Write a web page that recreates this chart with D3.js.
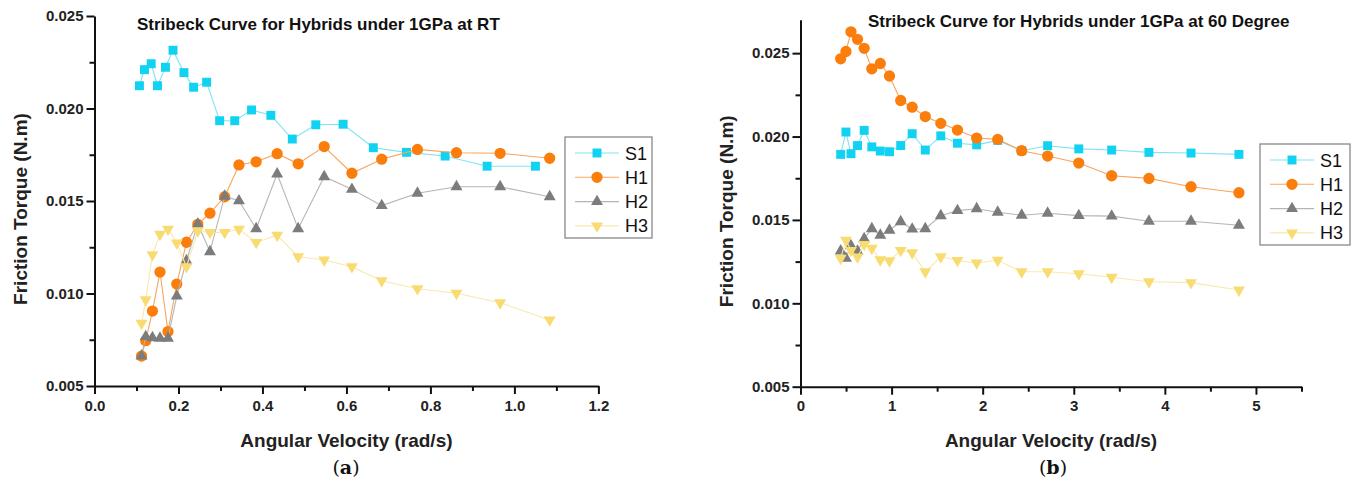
<!DOCTYPE html>
<html>
<head>
<meta charset="utf-8">
<script src="https://cdn.jsdelivr.net/npm/d3@7"></script>
<style>
  body { margin: 0; background: #fff; }
  text { font-family: "Liberation Sans", Arial, sans-serif; }
</style>
</head>
<body>
<div class="container"></div>
<script>
var w = 1357;
var h = 483;

// panel (a): room temperature
var rtVelS1 = [0.107, 0.119, 0.135, 0.150, 0.169, 0.187, 0.213, 0.236, 0.267, 0.298, 0.334, 0.374, 0.420, 0.471, 0.527, 0.592, 0.664, 0.743, 0.835, 0.935, 1.050];
var rtVelH = [0.112, 0.122, 0.138, 0.156, 0.175, 0.196, 0.219, 0.246, 0.275, 0.310, 0.344, 0.385, 0.435, 0.485, 0.547, 0.613, 0.684, 0.769, 0.862, 0.966, 1.084];
var rtS1 = [0.02123, 0.02210, 0.02242, 0.02123, 0.02223, 0.02315, 0.02194, 0.02115, 0.02142, 0.01934, 0.01934, 0.01992, 0.01963, 0.01835, 0.01912, 0.01915, 0.01788, 0.01763, 0.01743, 0.01688, 0.01688];
var rtH1 = [0.00662, 0.00745, 0.00905, 0.01116, 0.00794, 0.01051, 0.01277, 0.01374, 0.01434, 0.01523, 0.01695, 0.01712, 0.01756, 0.01701, 0.01794, 0.01650, 0.01726, 0.01779, 0.01761, 0.01758, 0.01731];
var rtH2 = [0.00662, 0.00767, 0.00761, 0.00758, 0.00758, 0.00986, 0.01177, 0.01376, 0.01226, 0.01526, 0.01501, 0.01350, 0.01646, 0.01350, 0.01631, 0.01563, 0.01475, 0.01542, 0.01577, 0.01577, 0.01523];
var rtH3 = [0.00839, 0.00966, 0.01210, 0.01320, 0.01348, 0.01273, 0.01145, 0.01339, 0.01330, 0.01330, 0.01348, 0.01276, 0.01315, 0.01199, 0.01181, 0.01145, 0.01069, 0.01026, 0.01001, 0.00950, 0.00857];

// panel (b): 60 degree
var hotVel = [0.441, 0.499, 0.554, 0.626, 0.699, 0.783, 0.876, 0.977, 1.100, 1.226, 1.370, 1.540, 1.723, 1.934, 2.165, 2.428, 2.713, 3.055, 3.416, 3.825, 4.287, 4.813];
var hotS1 = [0.01893, 0.02027, 0.01897, 0.01946, 0.02037, 0.01938, 0.01913, 0.01909, 0.01946, 0.02017, 0.01919, 0.02004, 0.01960, 0.01950, 0.01977, 0.01915, 0.01945, 0.01926, 0.01919, 0.01905, 0.01901, 0.01893];
var hotH1 = [0.02466, 0.02510, 0.02628, 0.02583, 0.02529, 0.02406, 0.02438, 0.02363, 0.02216, 0.02176, 0.02120, 0.02079, 0.02039, 0.01991, 0.01983, 0.01915, 0.01883, 0.01841, 0.01765, 0.01749, 0.01699, 0.01663];
var hotH2 = [0.01314, 0.01270, 0.01345, 0.01312, 0.01387, 0.01447, 0.01408, 0.01438, 0.01489, 0.01445, 0.01447, 0.01525, 0.01556, 0.01567, 0.01546, 0.01528, 0.01540, 0.01526, 0.01523, 0.01492, 0.01492, 0.01468];
var hotH3 = [0.01270, 0.01379, 0.01317, 0.01278, 0.01353, 0.01330, 0.01261, 0.01255, 0.01317, 0.01303, 0.01189, 0.01279, 0.01257, 0.01242, 0.01258, 0.01189, 0.01189, 0.01177, 0.01156, 0.01129, 0.01124, 0.01080];

var seriesNames = ["S1", "H1", "H2", "H3"];
var yTicks = [0.005, 0.010, 0.015, 0.020, 0.025];
var rtXTicks = [0, 0.2, 0.4, 0.6, 0.8, 1.0, 1.2];
var hotXTicks = [0, 1, 2, 3, 4, 5];

var styles = {
  S1: { fill: "#12d2f2", line: "#7fe3f5", sym: d3.symbolSquare, size: 80, rot: 0 },
  H1: { fill: "#fb7e0c", line: "#f8a45c", sym: d3.symbolCircle, size: 100, rot: 0 },
  H2: { fill: "#7c7c7c", line: "#b5b5b5", sym: d3.symbolTriangle, size: 62, rot: 0 },
  H3: { fill: "#f8dc72", line: "#f9e8ad", sym: d3.symbolTriangle, size: 62, rot: 180 }
};

var svg = d3.select(".container").append("svg")
  .attr("width", w)
  .attr("height", h)
  .style("display", "block");

function panel(cfg) {
  var g = svg.append("g");
  var x = d3.scaleLinear().domain(cfg.xDomain).range(cfg.xRange);
  var y = d3.scaleLinear().domain(cfg.yDomain).range(cfg.yRange);
  var y0 = cfg.yRange[0], x0 = cfg.xRange[0];

  // minor ticks first
  g.append("g").attr("transform", "translate(0," + y0 + ")")
    .call(d3.axisBottom(x).tickValues(cfg.xMinor).tickSize(5).tickFormat(""))
    .call(s => s.select(".domain").remove());
  g.append("g").attr("transform", "translate(" + x0 + ",0)")
    .call(d3.axisLeft(y).tickValues(cfg.yMinor).tickSize(5).tickFormat(""))
    .call(s => s.select(".domain").remove());

  var xa = g.append("g").attr("transform", "translate(0," + y0 + ")")
    .call(d3.axisBottom(x).tickValues(cfg.xTicks).tickSize(8).tickSizeOuter(0).tickPadding(6).tickFormat(cfg.xFmt));
  var ya = g.append("g").attr("transform", "translate(" + x0 + ",0)")
    .call(d3.axisLeft(y).tickValues(yTicks).tickSize(8).tickSizeOuter(0).tickPadding(3).tickFormat(d3.format(".3f")));

  g.selectAll(".tick line").attr("stroke", "#111").attr("stroke-width", 2);
  g.selectAll(".domain").attr("stroke", "#111").attr("stroke-width", 2);
  g.selectAll(".tick text").style("font-size", "15px").style("font-weight", "bold").attr("fill", "#222");

  // titles
  g.append("text").attr("x", cfg.titleX).attr("y", cfg.titleY)
    .text(cfg.title).style("font-size", "17px").style("font-weight", "bold").attr("fill", "#111");
  g.append("text").attr("x", (cfg.xRange[0] + cfg.xRange[1]) / 2).attr("y", 447)
    .attr("text-anchor", "middle").text("Angular Velocity (rad/s)")
    .style("font-size", "19px").style("font-weight", "bold").attr("fill", "#222");
  g.append("text").attr("transform", "translate(" + (x0 - 68) + "," + ((cfg.yRange[0] + cfg.yRange[1]) / 2 + 8) + ") rotate(-90)")
    .attr("text-anchor", "middle").text("Friction Torque (N.m)")
    .style("font-size", "19px").style("font-weight", "bold").attr("fill", "#222");

  var sub = g.append("text").attr("x", cfg.subX).attr("y", 474).attr("text-anchor", "middle")
    .style("font-family", "'DejaVu Serif', 'Liberation Serif', serif").style("font-size", "19px").attr("fill", "#111");
  sub.append("tspan").text("(");
  sub.append("tspan").text(cfg.sub).style("font-weight", "bold");
  sub.append("tspan").text(")");

  // series
  cfg.series.forEach(function(s) {
    var st = styles[s.name];
    var line = d3.line().x((d, i) => x(s.vel[i])).y(d => y(d));
    g.append("path").datum(s.vals).attr("d", line)
      .attr("fill", "none").attr("stroke", st.line).attr("stroke-width", 1.1);
    g.append("g").selectAll("path").data(s.vals).enter().append("path")
      .attr("d", d3.symbol().type(st.sym).size(st.size))
      .attr("transform", (d, i) => "translate(" + x(s.vel[i]) + "," + y(d) + ") rotate(" + st.rot + ")")
      .attr("fill", st.fill);
  });

  // legend
  var lg = g.append("g").attr("transform", "translate(" + cfg.legX + "," + cfg.legY + ")");
  lg.append("rect").attr("width", cfg.legW).attr("height", 101)
    .attr("fill", "#fff").attr("stroke", "#888").attr("stroke-width", 1.3);
  seriesNames.forEach(function(n, i) {
    var st = styles[n];
    var yy = 16 + i * 24.3;
    lg.append("line").attr("x1", 10).attr("x2", 54).attr("y1", yy).attr("y2", yy)
      .attr("stroke", st.line).attr("stroke-width", 1.1);
    lg.append("path").attr("d", d3.symbol().type(st.sym).size(st.size))
      .attr("transform", "translate(32," + yy + ") rotate(" + st.rot + ")").attr("fill", st.fill);
    lg.append("text").attr("x", 60).attr("y", yy + 6.5).text(n)
      .style("font-size", "18px").attr("fill", "#111");
  });
}

panel({
  xDomain: [0, 1.2], xRange: [94.5, 598.4],
  yDomain: [0.005, 0.025], yRange: [386, 16],
  xTicks: rtXTicks, xMinor: d3.range(0.1, 1.2, 0.2), xFmt: d3.format(".1f"),
  yMinor: [0.0075, 0.0125, 0.0175, 0.0225],
  title: "Stribeck Curve for Hybrids under 1GPa at RT", titleX: 137, titleY: 30,
  sub: "a", subX: 346,
  legX: 565, legY: 137, legW: 87,
  series: [
    { name: "S1", vel: rtVelS1, vals: rtS1 },
    { name: "H1", vel: rtVelH, vals: rtH1 },
    { name: "H2", vel: rtVelH, vals: rtH2 },
    { name: "H3", vel: rtVelH, vals: rtH3 }
  ]
});

panel({
  xDomain: [0, 5.5], xRange: [800.5, 1301.5],
  yDomain: [0.005, 0.027], yRange: [386.7, 19.8],
  xTicks: hotXTicks, xMinor: [0.5, 1.5, 2.5, 3.5, 4.5, 5.5], xFmt: d3.format("d"),
  yMinor: [0.0075, 0.0125, 0.0175, 0.0225],
  title: "Stribeck Curve for Hybrids under 1GPa at 60 Degree", titleX: 868, titleY: 27,
  sub: "b", subX: 1053,
  legX: 1260, legY: 144, legW: 90,
  series: [
    { name: "S1", vel: hotVel, vals: hotS1 },
    { name: "H1", vel: hotVel, vals: hotH1 },
    { name: "H2", vel: hotVel, vals: hotH2 },
    { name: "H3", vel: hotVel, vals: hotH3 }
  ]
});
</script>
</body>
</html>
